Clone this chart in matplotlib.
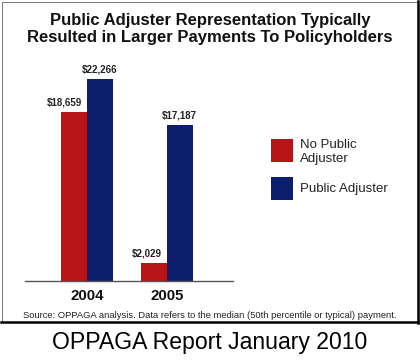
import matplotlib.pyplot as plt
from matplotlib.patches import Rectangle
from matplotlib.lines import Line2D

plt.rcParams['font.family'] = ['Liberation Sans', 'DejaVu Sans']

years = ['2004', '2005']
series = ['No Public\nAdjuster', 'Public Adjuster']
no_adjuster = [18659, 2029]
with_adjuster = [22266, 17187]
colors = ['#b51517', '#0b1d6b']

W, H = 420, 361
fig = plt.figure(figsize=(W / 100, H / 100), dpi=100)


def fx(px):
    return px / W


def fy(py):
    return 1 - py / H


# outer frame
fig.add_artist(Line2D([fx(1.5), fx(417.5)], [fy(1.5), fy(1.5)], color='#777777', lw=0.7))
fig.add_artist(Line2D([fx(1.5), fx(1.5)], [fy(1.5), fy(322)], color='#777777', lw=0.7))
fig.add_artist(Line2D([fx(417.5), fx(417.5)], [fy(1), fy(322.5)], color='black', lw=1.8))
fig.add_artist(Line2D([fx(1), fx(418)], [fy(322), fy(322)], color='black', lw=1.8))

ax = fig.add_axes([fx(25), fy(281), fx(233) - fx(25), fy(60) - fy(281)])
x = [0, 1]
w = 0.32
b1 = ax.bar([i - w / 2 for i in x], no_adjuster, w, color=colors[0])
b2 = ax.bar([i + w / 2 for i in x], with_adjuster, w, color=colors[1])
ax.set_xlim(-0.775, 1.825)
ax.set_ylim(0, 24360)
lab_kw = dict(textcoords='offset points', va='bottom', fontsize=7, fontweight='bold', color='#222222')
for r in b1:
    ax.annotate(f'${r.get_height():,.0f}', (r.get_x() + r.get_width(), r.get_height()),
                xytext=(-3.5, 3), ha='right', **lab_kw)
for r in b2:
    ax.annotate(f'${r.get_height():,.0f}', (r.get_x() + r.get_width() / 2, r.get_height()),
                xytext=(0, 3), ha='center', **lab_kw)

for s in ['top', 'left', 'right']:
    ax.spines[s].set_visible(False)
ax.spines['bottom'].set_color('#555555')
ax.spines['bottom'].set_linewidth(1.0)
ax.set_yticks([])
ax.set_xticks(x)
ax.set_xticklabels(years, fontsize=10.8, fontweight='bold', color='#111111')
ax.tick_params(axis='x', length=0, pad=6)
ax.patch.set_alpha(0)

# title
fig.text(0.5, fy(29), 'Public Adjuster Representation Typically\nResulted in Larger Payments To Policyholders',
         ha='center', va='center', fontsize=12, fontweight='bold', color='#111111', linespacing=1.1)

# legend
for lab, c, top, ty in zip(series, colors, [139, 177], [152, 189]):
    fig.add_artist(Rectangle((fx(271), fy(top + 23)), fx(22), fy(0) - fy(23), facecolor=c,
                             edgecolor='none', transform=fig.transFigure))
    fig.text(fx(300), fy(ty), lab, ha='left', va='center', fontsize=9.5, color='#222222',
             linespacing=1.15)

fig.text(0.5, fy(315), 'Source: OPPAGA analysis. Data refers to the median (50th percentile or typical) payment.',
         ha='center', va='center', fontsize=6.75, color='#222222')
fig.text(0.5, fy(342), 'OPPAGA Report January 2010', ha='center', va='center', fontsize=16.6, color='black')

fig.savefig('out.png', dpi=100)
